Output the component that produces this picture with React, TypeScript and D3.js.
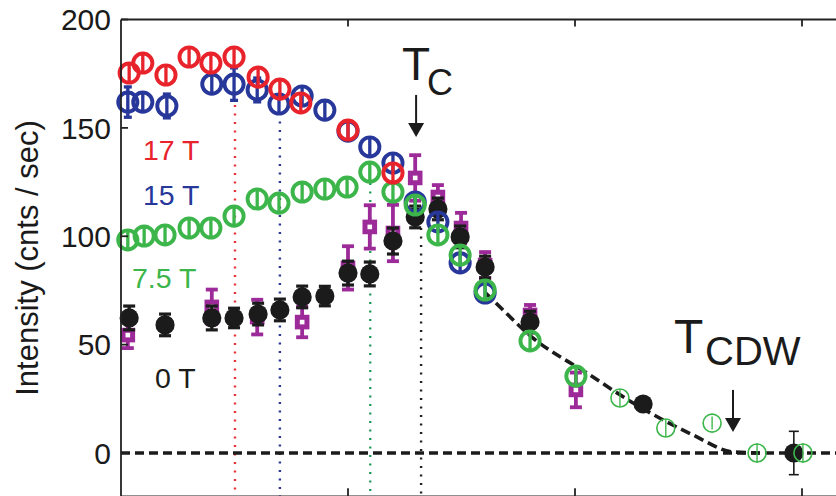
import React from 'react';
import * as d3 from 'd3';

const W = 836;
const H = 496;

const yTicks = [0, 50, 100, 150, 200];
const xTicks = [50, 100, 150];

// 17 T
const redT = [1.8, 4.8, 9.9, 15.0, 19.8, 24.9, 30.2, 35.0, 39.6, 50.0, 59.9];
const redI = [175.3, 179.9, 174.4, 182.7, 179.9, 182.7, 173.4, 167.9, 161.5, 149.0, 129.2];
const redErr = [4.5, 4.5, 4.5, 4.5, 4.5, 4.5, 4.5, 4.5, 4.5, 4.5, 4.5];

// 15 T
const blueT = [1.5, 4.8, 10.1, 20.0, 24.9, 30.0, 34.8, 39.9, 44.9, 50.0, 54.8, 59.9, 64.8, 69.8, 74.7, 80.2];
const blueI = [161.9, 161.9, 160.1, 170.2, 170.2, 167.5, 161.0, 164.7, 158.2, 148.5, 141.2, 133.8, 115.8, 106.6, 87.7, 73.8];
const blueErr = [7, 4.5, 5.5, 4.5, 7.5, 5.5, 4.5, 4.5, 4.5, 4.5, 4.5, 4.5, 4.5, 4.5, 4.5, 4.5];

// 7.5 T
const greenT = [1.5, 5.1, 9.7, 15.0, 19.8, 24.9, 30.0, 34.8, 39.9, 44.9, 49.8, 54.8, 59.9, 64.8, 69.8, 74.7, 80.2, 90.1, 100.2];
const greenI = [98.3, 100.1, 100.6, 103.8, 103.8, 109.3, 117.2, 115.3, 120.4, 121.8, 122.7, 129.6, 120.4, 114.4, 100.6, 91.3, 75.2, 51.7, 35.5];
const greenErr = [4.5, 4.5, 4.5, 4.5, 4.5, 4.5, 4.5, 4.5, 4.5, 4.5, 4.5, 4.5, 4.5, 4.5, 4.5, 4.5, 4.5, 4.5, 4.5];

// high-temperature open (thin) points
const thinT = [109.9, 120.0, 130.2, 140.1, 150.2];
const thinI = [25.4, 11.5, 13.8, 0, 0];
const thinErr = [4, 4, 3, 4.5, 4.5];

// 0 T
const blackT = [1.8, 9.7, 20.0, 24.9, 30.2, 35.0, 39.9, 44.9, 50.0, 54.8, 59.9, 64.8, 69.8, 74.7, 80.2, 90.1, 115.0, 148.2];
const blackI = [62.3, 59.1, 62.3, 62.3, 64.1, 66.0, 72.0, 72.4, 83.0, 82.6, 97.8, 108.9, 112.6, 99.7, 85.8, 60.4, 22.6, 0];
const blackErr = [5.5, 5, 5.5, 4.5, 5, 5, 5, 4.5, 5.5, 5.5, 6, 5, 5, 5, 5, 5, 2, 10];

// squares
const magT = [1.5, 20.0, 30.0, 39.9, 50.0, 54.8, 59.9, 64.8, 69.8, 74.9, 80.2, 90.1, 100.2];
const magI = [54.4, 67.4, 62.7, 60.4, 85.4, 104.3, 101.5, 126.9, 118.1, 103.8, 86.7, 63.7, 29.1];
const magErr = [6, 8, 8, 7, 10, 10, 13, 10.5, 5.5, 7, 6, 4.6, 8];

// dashed guide curve
const fitT = [80.2, 81.9, 90.7, 102.6, 112.8, 126.0, 134.8, 140.7];
const fitI = [74.0, 70.6, 53.1, 36.9, 23.1, 8.3, 0.5, 0];

// dotted vertical markers
const markT = [25.1, 35.0, 54.9, 66.1];
const markTop = [160.6, 156.9, 124.6, 103.8];
const markColor = ['#e3343c', '#2c3592', '#2a9d5c', '#222222'];

// arrows
const tcT = 65.0;
const tcArrow = [165.2, 145.8];
const tcdwT = 134.8;
const tcdwArrow = [29.1, 9.7];

const FONT = "'Liberation Sans', Arial, Helvetica, sans-serif";

const RED = '#e8232b';
const BLUE = '#27379a';
const GREEN = '#3cb54a';
const BLACK = '#1b1b1b';
const MAG = '#9c2a98';

export default function App() {
  const x = d3.scaleLinear().domain([0, 150]).range([121, 802]);
  const y = d3.scaleLinear().domain([-20, 200]).range([496.35, 19.5]);

  const ringSeries = (T: number[], I: number[], E: number[], color: string, r: number, sw: number, key: string) =>
    T.map((t, i) => {
      const cx = x(t);
      const cy = y(I[i]);
      const y1 = y(I[i] + E[i]);
      const y2 = y(I[i] - E[i]);
      const caps = y2 - cy > r + 1;
      return (
        <g key={key + i}>
          <circle cx={cx} cy={cy} r={r} fill="none" stroke={color} strokeWidth={sw} />
          <line x1={cx} x2={cx} y1={y1} y2={y2} stroke={color} strokeWidth={sw * 0.85} />
          {caps && (
            <>
              <line x1={cx - 4} x2={cx + 4} y1={y1} y2={y1} stroke={color} strokeWidth={sw * 0.85} />
              <line x1={cx - 4} x2={cx + 4} y1={y2} y2={y2} stroke={color} strokeWidth={sw * 0.85} />
            </>
          )}
        </g>
      );
    });

  const fitLine = d3
    .line<number>()
    .x((_, i) => x(fitT[i]))
    .y((d) => y(d))
    .curve(d3.curveMonotoneX)(fitI);

  return (
    <svg
      width={W}
      height={H}
      style={{ position: 'absolute', left: 0, top: 0, background: '#fff' }}
      fontFamily={FONT}
    >
      <rect x={0} y={0} width={W} height={H} fill="#fff" />

      {/* dotted markers */}
      {markT.map((t, i) => (
        <line
          key={'m' + i}
          x1={x(t)}
          x2={x(t)}
          y1={y(markTop[i])}
          y2={H}
          stroke={markColor[i]}
          strokeWidth={2.4}
          strokeDasharray="2 6.5"
        />
      ))}

      {/* zero line */}
      <line x1={x(0)} x2={W} y1={y(0)} y2={y(0)} stroke={BLACK} strokeWidth={3.4} strokeDasharray="9 5" />

      {/* fit curve */}
      <path d={fitLine || ''} fill="none" stroke={BLACK} strokeWidth={3.6} strokeDasharray="10 5" />

      {/* squares */}
      {magT.map((t, i) => {
        const cx = x(t);
        const cy = y(magI[i]);
        const y1 = y(magI[i] + magErr[i]);
        const y2 = y(magI[i] - magErr[i]);
        return (
          <g key={'q' + i}>
            <line x1={cx} x2={cx} y1={y1} y2={y2} stroke={MAG} strokeWidth={3.8} />
            <line x1={cx - 6} x2={cx + 6} y1={y1} y2={y1} stroke={MAG} strokeWidth={3.8} />
            <line x1={cx - 6} x2={cx + 6} y1={y2} y2={y2} stroke={MAG} strokeWidth={3.8} />
            <rect x={cx - 4.8} y={cy - 4.8} width={9.6} height={9.6} fill="#fff" stroke={MAG} strokeWidth={5} />
          </g>
        );
      })}

      {/* 0 T */}
      {blackT.map((t, i) => {
        const cx = x(t);
        const cy = y(blackI[i]);
        const y1 = y(blackI[i] + blackErr[i]);
        const y2 = y(blackI[i] - blackErr[i]);
        const big = blackErr[i] > 8;
        const sw = big ? 1.6 : 3.2;
        const cw = big ? 5 : 6;
        return (
          <g key={'k' + i}>
            <line x1={cx} x2={cx} y1={y1} y2={y2} stroke={BLACK} strokeWidth={sw} />
            <line x1={cx - cw} x2={cx + cw} y1={y1} y2={y1} stroke={BLACK} strokeWidth={sw} />
            <line x1={cx - cw} x2={cx + cw} y1={y2} y2={y2} stroke={BLACK} strokeWidth={sw} />
            <circle cx={cx} cy={cy} r={9.6} fill={BLACK} />
          </g>
        );
      })}

      {ringSeries(blueT, blueI, blueErr, BLUE, 9.6, 3.9, 'b')}
      {ringSeries(greenT, greenI, greenErr, GREEN, 9.6, 3.9, 'g')}
      {ringSeries(redT, redI, redErr, RED, 9.6, 3.9, 'r')}
      {ringSeries(thinT, thinI, thinErr, GREEN, 9, 1.6, 't')}

      {/* axes frame */}
      <line x1={x(0)} x2={x(0)} y1={y(200)} y2={H} stroke="#222" strokeWidth={1.8} />
      <line x1={x(0)} x2={W} y1={y(200)} y2={y(200)} stroke="#222" strokeWidth={1.8} />
      <line x1={x(0)} x2={W} y1={y(-20)} y2={y(-20)} stroke="#222" strokeWidth={1.8} />
      {yTicks.map((v) => (
        <g key={'yt' + v}>
          <line x1={x(0)} x2={x(0) + 7} y1={y(v)} y2={y(v)} stroke="#222" strokeWidth={1.8} />
          <text x={111} y={y(v)} dy="0.36em" textAnchor="end" fontSize={30} fill="#1a1a1a">
            {v}
          </text>
        </g>
      ))}
      {xTicks.map((v) => (
        <g key={'xt' + v}>
          <line x1={x(v)} x2={x(v)} y1={y(200)} y2={y(200) + 7} stroke="#222" strokeWidth={1.8} />
          <line x1={x(v)} x2={x(v)} y1={y(-20)} y2={y(-20) - 8} stroke="#222" strokeWidth={1.8} />
        </g>
      ))}

      {/* y label */}
      <text
        transform={`translate(38,258) rotate(-90)`}
        textAnchor="middle"
        fontSize={31}
        fill="#1a1a1a"
      >
        Intensity (cnts / sec)
      </text>

      {/* series labels */}
      <text x={143} y={160} fontSize={28.5} fill={RED}>17 T</text>
      <text x={143} y={205} fontSize={28.5} fill={BLUE}>15 T</text>
      <text x={132} y={288} fontSize={28.5} fill={GREEN}>7.5 T</text>
      <text x={155} y={388} fontSize={28.5} fill={BLACK}>0 T</text>

      {/* Tc */}
      <text x={402} y={80} fontSize={46} fill={BLACK}>T</text>
      <text x={427} y={95} fontSize={36} fill={BLACK}>C</text>
      <line x1={x(tcT)} x2={x(tcT)} y1={y(tcArrow[0])} y2={y(tcArrow[1]) - 10} stroke={BLACK} strokeWidth={2} />
      <path
        d={`M${x(tcT) - 8},${y(tcArrow[1]) - 14} L${x(tcT) + 8},${y(tcArrow[1]) - 14} L${x(tcT)},${y(tcArrow[1])} Z`}
        fill={BLACK}
      />

      {/* TCDW */}
      <text x={674} y={353} fontSize={48} fill={BLACK}>T</text>
      <text x={705} y={365} fontSize={40} fill={BLACK}>CDW</text>
      <line x1={x(tcdwT)} x2={x(tcdwT)} y1={y(tcdwArrow[0])} y2={y(tcdwArrow[1]) - 10} stroke={BLACK} strokeWidth={2} />
      <path
        d={`M${x(tcdwT) - 8},${y(tcdwArrow[1]) - 14} L${x(tcdwT) + 8},${y(tcdwArrow[1]) - 14} L${x(tcdwT)},${y(tcdwArrow[1])} Z`}
        fill={BLACK}
      />
    </svg>
  );
}
